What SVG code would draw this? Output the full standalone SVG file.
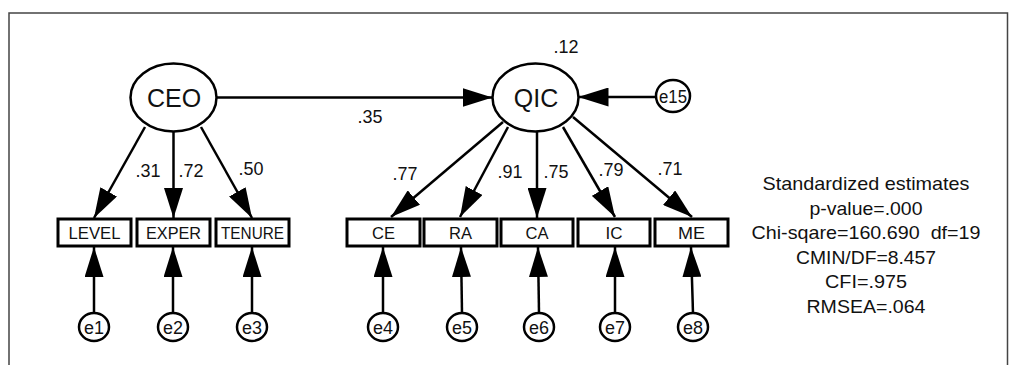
<svg xmlns="http://www.w3.org/2000/svg" width="1010" height="365" viewBox="0 0 1010 365">
<style>
text{font-family:"Liberation Sans",Arial,sans-serif;fill:#111;text-anchor:middle}
.lat{fill:#fff;stroke:#000;stroke-width:2.5}
.obs{fill:#fff;stroke:#000;stroke-width:3}
.err{fill:#fff;stroke:#000;stroke-width:2.5}
.big{font-size:25px}
.lbl{font-size:16.5px}
.el{font-size:18px}
.num{font-size:19px}
.fit{font-size:18.5px}
.c line{stroke:#000;stroke-width:2.5;marker-end:url(#ah)}
</style>
<defs>
<marker id="ah" viewBox="0 0 30 19" refX="30" refY="9.5" markerWidth="30" markerHeight="19" markerUnits="userSpaceOnUse" orient="auto">
<path d="M0,0 L30,9.5 L0,19 z" fill="#000"/>
</marker>
</defs>
<rect width="1010" height="365" fill="#fff"/>
<g id="frame" stroke="#444" stroke-width="1.5" fill="none">
<path d="M9,365 V13 H1007.5 V365"/>
</g>
<g class="c" id="connectors">
<line x1="217" y1="97.5" x2="492.5" y2="97.5"/>
<line x1="656" y1="97" x2="578.5" y2="97"/>
<line x1="145" y1="127" x2="94" y2="218"/>
<line x1="173.5" y1="132" x2="173.5" y2="218"/>
<line x1="201" y1="127" x2="252" y2="218"/>
<line x1="503" y1="122" x2="391" y2="217"/>
<line x1="508" y1="127" x2="460" y2="217"/>
<line x1="537" y1="132" x2="537" y2="218"/>
<line x1="563" y1="127" x2="615" y2="217"/>
<line x1="573" y1="117" x2="692" y2="217"/>
<line x1="94" y1="313" x2="94" y2="247"/>
<line x1="173" y1="313" x2="173" y2="247"/>
<line x1="252" y1="313" x2="252" y2="247"/>
<line x1="383" y1="313" x2="383" y2="247"/>
<line x1="462" y1="313" x2="461" y2="247"/>
<line x1="539" y1="313" x2="538" y2="247"/>
<line x1="615" y1="313" x2="615" y2="247"/>
<line x1="693" y1="313" x2="691" y2="247"/>
</g>
<g id="CEO"><ellipse class="lat" cx="173.5" cy="97.5" rx="43" ry="34"/><text class="big" x="174" y="107">CEO</text></g>
<g id="QIC"><ellipse class="lat" cx="535.5" cy="97.5" rx="43" ry="34"/><text class="big" x="536" y="107">QIC</text></g>
<g id="e15"><ellipse class="err" cx="673" cy="96" rx="17" ry="16"/><text class="el" x="673" y="102.5" textLength="28" lengthAdjust="spacingAndGlyphs">e15</text></g>
<g id="LEVEL"><rect class="obs" x="58" y="219" width="73" height="27"/><text class="lbl" x="94.5" y="238.5" textLength="52" lengthAdjust="spacingAndGlyphs">LEVEL</text></g>
<g id="EXPER"><rect class="obs" x="137" y="219" width="73" height="27"/><text class="lbl" x="173.5" y="238.5" textLength="55" lengthAdjust="spacingAndGlyphs">EXPER</text></g>
<g id="TENURE"><rect class="obs" x="216" y="219" width="73" height="27"/><text class="lbl" x="252.5" y="238.5" textLength="63" lengthAdjust="spacingAndGlyphs">TENURE</text></g>
<g id="CE"><rect class="obs" x="347" y="219" width="73" height="27"/><text class="lbl" x="383.5" y="238.5" textLength="23" lengthAdjust="spacingAndGlyphs">CE</text></g>
<g id="RA"><rect class="obs" x="424" y="219" width="73" height="27"/><text class="lbl" x="460.5" y="238.5" textLength="23" lengthAdjust="spacingAndGlyphs">RA</text></g>
<g id="CA"><rect class="obs" x="501" y="219" width="72" height="27"/><text class="lbl" x="537" y="238.5" textLength="23" lengthAdjust="spacingAndGlyphs">CA</text></g>
<g id="IC"><rect class="obs" x="578" y="219" width="72" height="27"/><text class="lbl" x="614" y="238.5" textLength="17" lengthAdjust="spacingAndGlyphs">IC</text></g>
<g id="ME"><rect class="obs" x="655" y="219" width="73" height="27"/><text class="lbl" x="691.5" y="238.5" textLength="27" lengthAdjust="spacingAndGlyphs">ME</text></g>
<g id="e1"><ellipse class="err" cx="94" cy="327" rx="15" ry="14"/><text class="el" x="94" y="333.5" textLength="20" lengthAdjust="spacingAndGlyphs">e1</text></g>
<g id="e2"><ellipse class="err" cx="173" cy="327" rx="15" ry="14"/><text class="el" x="173" y="333.5" textLength="20" lengthAdjust="spacingAndGlyphs">e2</text></g>
<g id="e3"><ellipse class="err" cx="252" cy="327" rx="15" ry="14"/><text class="el" x="252" y="333.5" textLength="20" lengthAdjust="spacingAndGlyphs">e3</text></g>
<g id="e4"><ellipse class="err" cx="383" cy="327" rx="15" ry="14"/><text class="el" x="383" y="333.5" textLength="20" lengthAdjust="spacingAndGlyphs">e4</text></g>
<g id="e5"><ellipse class="err" cx="462" cy="327" rx="15" ry="14"/><text class="el" x="462" y="333.5" textLength="20" lengthAdjust="spacingAndGlyphs">e5</text></g>
<g id="e6"><ellipse class="err" cx="539" cy="327" rx="15" ry="14"/><text class="el" x="539" y="333.5" textLength="20" lengthAdjust="spacingAndGlyphs">e6</text></g>
<g id="e7"><ellipse class="err" cx="615" cy="327" rx="15" ry="14"/><text class="el" x="615" y="333.5" textLength="20" lengthAdjust="spacingAndGlyphs">e7</text></g>
<g id="e8"><ellipse class="err" cx="693" cy="327" rx="15" ry="14"/><text class="el" x="693" y="333.5" textLength="20" lengthAdjust="spacingAndGlyphs">e8</text></g>
<g id="estimates">
<text class="num" x="148" y="177" textLength="25" lengthAdjust="spacingAndGlyphs">.31</text>
<text class="num" x="191" y="177" textLength="25" lengthAdjust="spacingAndGlyphs">.72</text>
<text class="num" x="251" y="175" textLength="25" lengthAdjust="spacingAndGlyphs">.50</text>
<text class="num" x="370" y="123" textLength="25" lengthAdjust="spacingAndGlyphs">.35</text>
<text class="num" x="566" y="53" textLength="25" lengthAdjust="spacingAndGlyphs">.12</text>
<text class="num" x="405" y="180" textLength="25" lengthAdjust="spacingAndGlyphs">.77</text>
<text class="num" x="510" y="178" textLength="25" lengthAdjust="spacingAndGlyphs">.91</text>
<text class="num" x="556" y="178" textLength="25" lengthAdjust="spacingAndGlyphs">.75</text>
<text class="num" x="611" y="176" textLength="25" lengthAdjust="spacingAndGlyphs">.79</text>
<text class="num" x="670" y="175" textLength="25" lengthAdjust="spacingAndGlyphs">.71</text>
</g>
<g id="fit">
<text class="fit" x="866" y="190" textLength="207" lengthAdjust="spacingAndGlyphs">Standardized estimates</text>
<text class="fit" x="866" y="214.5" textLength="113" lengthAdjust="spacingAndGlyphs">p-value=.000</text>
<text class="fit" x="866" y="239" textLength="229" lengthAdjust="spacingAndGlyphs" xml:space="preserve">Chi-sqare=160.690  df=19</text>
<text class="fit" x="866" y="263.5" textLength="140" lengthAdjust="spacingAndGlyphs">CMIN/DF=8.457</text>
<text class="fit" x="866" y="288" textLength="82" lengthAdjust="spacingAndGlyphs">CFI=.975</text>
<text class="fit" x="866" y="312.5" textLength="119" lengthAdjust="spacingAndGlyphs">RMSEA=.064</text>
</g>
</svg>
